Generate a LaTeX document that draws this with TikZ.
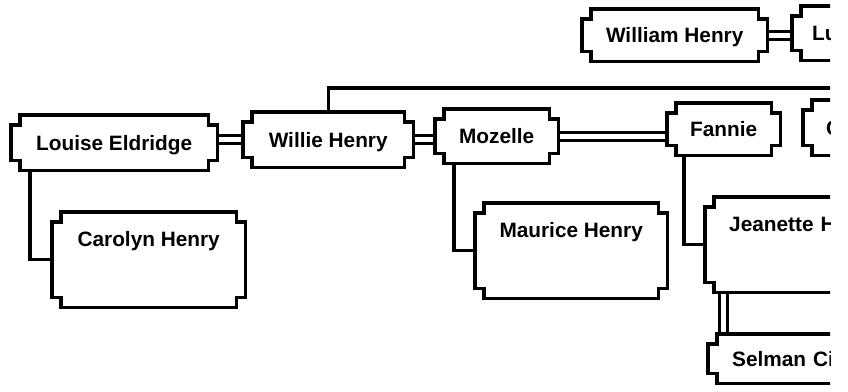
\documentclass[tikz,border=0pt]{standalone}
\usepackage{fontspec}
\setmainfont{Liberation Sans}
\usetikzlibrary{calc}

\newcommand{\cardframe}[1]{%
\draw [cardline] ($(#1.north west)+(9pt,0pt)$) -- ($(#1.north east)+(-9pt,0pt)$)
  -- ++(0pt,-10pt) -- ++(9pt,0pt) -- ($(#1.south east)+(0pt,10pt)$)
  -- ++(-9pt,0pt) -- ++(0pt,-10pt) -- ($(#1.south west)+(9pt,0pt)$)
  -- ++(0pt,10pt) -- ++(-9pt,0pt) -- ($(#1.north west)+(0pt,-10pt)$)
  -- ++(9pt,0pt) -- cycle;}

\begin{document}
\begin{tikzpicture}[x=1pt,y=-1pt,font=\fontsize{20.8pt}{24pt}\selectfont\bfseries,
  card/.style={anchor=north west,inner sep=0pt},
  oneline/.style={text height=15pt,text depth=0pt},
  twoline/.style={text height=34pt,text depth=61pt},
  cut/.style={text width=150pt,align=left,inner xsep=24pt},
  cardline/.style={line width=3.3pt},
  kinline/.style={line width=3.3pt},
  spouse/.style={double,line width=3.1pt,double distance=4.6pt}]
\useasboundingbox (0,0) rectangle (848,391);
\clip (0,0) rectangle (830,391);
\node [card,oneline,minimum width=185pt,minimum height=52pt] (william) at (582,9) {William Henry};
\node [card,oneline,cut,inner xsep=20pt,minimum height=54pt] (lu) at (792,6) {Lu};
\node [card,oneline,minimum width=206pt,minimum height=55pt] (louise) at (11,115) {Louise Eldridge};
\node [card,oneline,minimum width=170pt,minimum height=55pt] (willie) at (243,112) {Willie Henry};
\node [card,oneline,minimum width=123pt,minimum height=54pt] (mozelle) at (435,109) {Mozelle};
\node [card,oneline,minimum width=113pt,minimum height=52pt] (fannie) at (667,103) {Fannie};
\node [card,oneline,cut,inner xsep=23pt,minimum height=55pt] (nextsib) at (803,100) {C};
\node [card,twoline,minimum width=193pt] (carolyn) at (52,212) {Carolyn Henry};
\node [card,twoline,minimum width=192pt] (maurice) at (475,203) {Maurice Henry};
\node [card,twoline,cut] (jeanette) at (705,197) {Jeanette H};
\node [card,oneline,cut,minimum height=49pt] (selman) at (708,334) {Selman Ci};
\coordinate (sibbar) at (840,88);
\draw [kinline] (willie.north) |- (sibbar);
\draw [kinline] ($(louise.south west)+(19pt,0pt)$) |- (carolyn.west);
\draw [kinline] ($(mozelle.south west)+(19pt,0pt)$) |- (maurice.west);
\draw [kinline] ($(fannie.south west)+(17pt,0pt)$) |- (jeanette.west);
\draw [spouse] (william.east) -- (william.east -| lu.west);
\draw [spouse] (louise.east |- willie.west) -- (willie.west);
\draw [spouse] (willie.east) -- (willie.east -| mozelle.west);
\draw [spouse] (mozelle.east) -- (mozelle.east -| fannie.west);
\draw [spouse] ($(jeanette.south west)+(18.5pt,0pt)$) -- ($(selman.north west)+(15.5pt,0pt)$);
\cardframe{william}
\cardframe{lu}
\cardframe{louise}
\cardframe{willie}
\cardframe{mozelle}
\cardframe{fannie}
\cardframe{nextsib}
\cardframe{carolyn}
\cardframe{maurice}
\cardframe{jeanette}
\cardframe{selman}
\end{tikzpicture}
\end{document}
